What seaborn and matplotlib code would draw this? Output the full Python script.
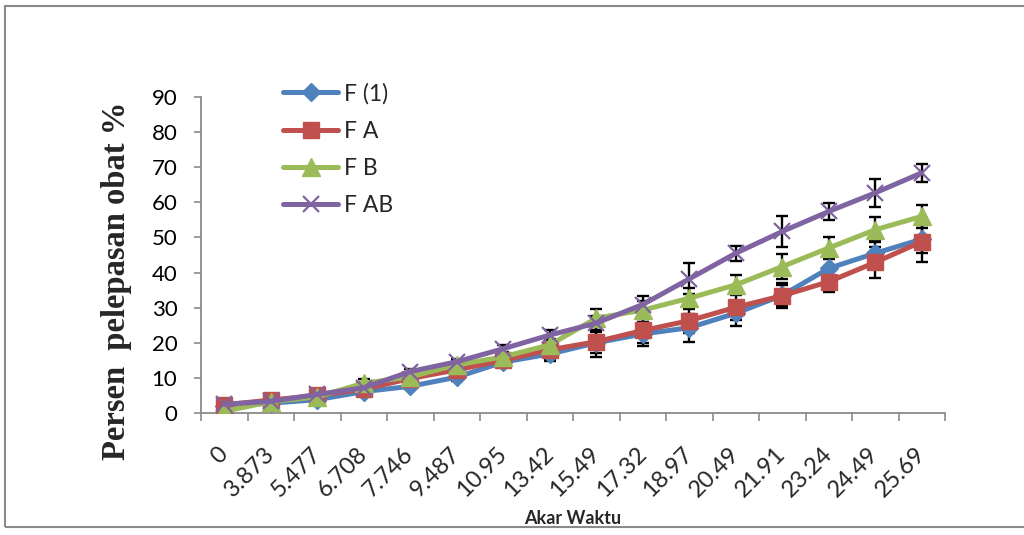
import numpy as np
import pandas as pd
import matplotlib
matplotlib.use("Agg")
import matplotlib.pyplot as plt
import seaborn as sns
from matplotlib.patches import Rectangle
from matplotlib.ticker import FixedLocator, NullFormatter, FixedFormatter

# Square root of time (x categories)
time_labels = ["0", "3.873", "5.477", "6.708", "7.746", "9.487", "10.95", "13.42",
               "15.49", "17.32", "18.97", "20.49", "21.91", "23.24", "24.49", "25.69"]

# Percent drug released per formula
f_1 = [2.0, 2.8, 3.8, 6.1, 7.6, 10.2, 14.5, 16.8, 20.0, 22.5, 24.3, 28.4, 33.5, 41.2, 45.5, 49.5]
f_a = [2.3, 3.7, 5.0, 6.8, 9.8, 12.3, 15.0, 18.0, 20.3, 23.5, 26.3, 30.1, 33.4, 37.4, 42.9, 48.8]
f_b = [0.5, 3.2, 4.6, 8.5, 10.3, 13.7, 16.0, 19.4, 27.0, 29.3, 32.7, 36.5, 41.7, 47.0, 52.2, 56.0]
f_ab = [2.5, 3.3, 5.3, 7.2, 11.8, 14.6, 18.3, 22.2, 25.6, 30.9, 38.2, 45.5, 51.7, 57.4, 62.7, 68.4]

# Standard deviations
sd_1 = [0.2, 0.2, 0.3, 0.5, 0.7, 1.0, 1.5, 2.0, 3.0, 3.5, 4.0, 3.5, 3.5, 3.0, 3.5, 4.0]
sd_a = [0.2, 0.2, 0.3, 0.6, 0.8, 1.0, 1.5, 3.0, 4.4, 3.5, 3.5, 3.5, 3.0, 3.0, 4.5, 5.8]
sd_b = [0.2, 0.2, 0.3, 1.2, 1.0, 1.0, 1.0, 1.5, 2.5, 2.5, 3.0, 2.7, 3.5, 3.2, 3.5, 3.2]
sd_ab = [0.2, 0.2, 0.3, 0.5, 0.6, 0.8, 1.0, 1.5, 2.0, 2.5, 4.4, 2.2, 4.3, 2.5, 4.0, 2.6]

series_names = ["F (1)", "F A", "F B", "F AB"]

sns.set_theme(style="white")
plt.rcParams['font.family'] = ['Lato', 'DejaVu Sans']

W, H = 1024, 535
fig = plt.figure(figsize=(W / 100, H / 100), dpi=100)
fig.patch.set_facecolor("white")

# outer chart border
fig.patches.append(Rectangle((5 / W, (H - 527) / H), 1.2, (527 - 6) / H,
                             transform=fig.transFigure, fill=False,
                             edgecolor="#8a8a8a", linewidth=1.5))

ax = fig.add_axes([201 / W, (H - 413) / H, 744 / W, 316 / H])
ax.set_facecolor("none")

pos = np.arange(len(time_labels))
styles = [
    (f_1, sd_1, "#4F81BD", "D", 9, 1.0),
    (f_a, sd_a, "#C0504D", "s", 12, 1.0),
    (f_b, sd_b, "#9BBB59", "^", 12.5, 1.0),
    (f_ab, sd_ab, "#8064A2", "x", 12, 1.6),
]

for i, (name, (vals, sd, color, mk, ms, mew)) in enumerate(zip(series_names, styles)):
    sns.lineplot(x=pos, y=vals, color=color, marker=mk, markersize=ms,
                 markeredgewidth=mew, markeredgecolor=color, markerfacecolor=color,
                 linewidth=3.6, label=name, ax=ax, zorder=3 + i)
    ax.errorbar(pos, vals, yerr=sd, fmt="none", ecolor="black",
                elinewidth=1.7, capsize=4.5, capthick=1.7, zorder=2.5)

ax.set_xlim(-0.5, len(time_labels) - 0.5)
ax.set_ylim(0, 90)
ax.set_yticks(np.arange(0, 91, 10))
ax.tick_params(axis="y", labelsize=16, length=5, width=1.2, color="#8a8a8a",
               pad=12, left=True, labelcolor="black")

# tick marks between categories, labels centred on categories
ax.xaxis.set_major_locator(FixedLocator(np.arange(-0.5, len(time_labels), 1.0)))
ax.xaxis.set_major_formatter(NullFormatter())
ax.xaxis.set_minor_locator(FixedLocator(pos))
ax.xaxis.set_minor_formatter(FixedFormatter(time_labels))
ax.tick_params(axis="x", which="major", length=6, width=1.2, color="#8a8a8a", bottom=True)
ax.tick_params(axis="x", which="minor", length=0, pad=27, labelsize=17)
for lbl in ax.xaxis.get_minorticklabels():
    lbl.set_rotation(45)
    lbl.set_rotation_mode("anchor")
    lbl.set_ha("right")
    lbl.set_va("center")

for side in ["top", "right"]:
    ax.spines[side].set_visible(False)
for side in ["left", "bottom"]:
    ax.spines[side].set_color("#8a8a8a")
    ax.spines[side].set_linewidth(1.3)

ax.set_xlabel("")
ax.set_ylabel("")
fig.text(573 / W, (H - 518) / H, "Akar Waktu", ha="center", va="center",
         fontsize=13, fontweight="bold")
fig.text(117 / W, (H - 281) / H, "Persen  pelepasan obat %", rotation=90,
         ha="center", va="center", fontsize=23.5, fontweight="bold",
         family="Liberation Serif")

handles, labels = ax.get_legend_handles_labels()
if ax.get_legend() is not None:
    ax.get_legend().remove()
ax.legend(handles, labels, loc="upper left", bbox_to_anchor=(283 / W, (H - 83) / H),
          bbox_transform=fig.transFigure, frameon=False, fontsize=16.5,
          handlelength=2.4, handletextpad=0.25, labelspacing=0.7,
          borderpad=0, borderaxespad=0)

fig.savefig("out.png", dpi=100, facecolor=fig.get_facecolor())
